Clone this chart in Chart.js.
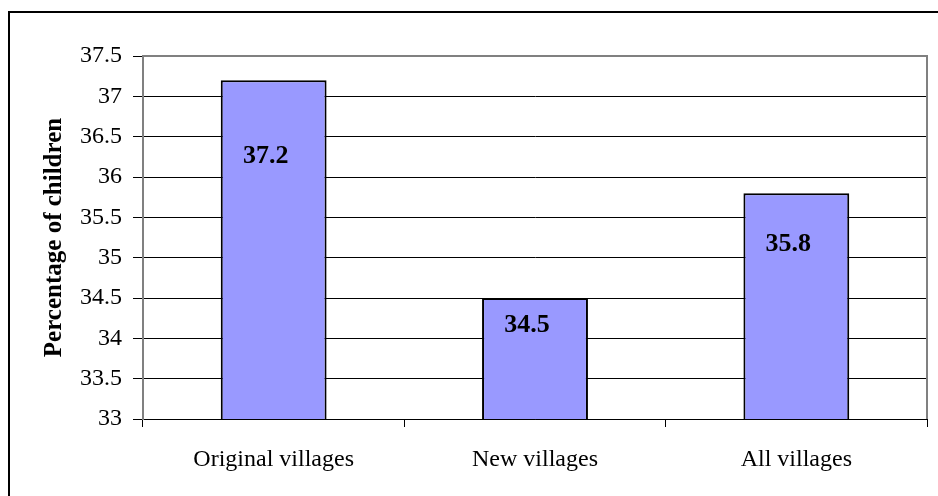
<!DOCTYPE html>
<html>
<head>
<meta charset="utf-8">
<script src="https://cdn.jsdelivr.net/npm/chart.js@4"></script>
<style>
  html, body { margin: 0; padding: 0; background: #fff; }
  #wrap { width: 938px; height: 496px; }
</style>
</head>
<body>
<div id="wrap"><canvas id="chart" width="938" height="496"></canvas></div>
<script>
const categories = ['Original villages', 'New villages', 'All villages'];
const percentChildren = [37.2, 34.5, 35.8];
const yMin = 33;
const yMax = 37.5;
const yStep = 0.5;

const serif = '"Liberation Serif", "Times New Roman", serif';

// outer frame + grey plot border
const framePlugin = {
    id: 'frame',
    beforeDraw(chart) {
        const ctx = chart.ctx;
        ctx.save();
        ctx.fillStyle = '#fff';
        ctx.fillRect(0, 0, chart.width, chart.height);
        ctx.strokeStyle = '#000';
        ctx.lineWidth = 2;
        ctx.strokeRect(9, 12, chart.width + 20, chart.height + 20);
        ctx.restore();
    },
    afterDraw(chart) {
        const a = chart.chartArea;
        const ctx = chart.ctx;
        ctx.save();
        ctx.strokeStyle = '#808080';
        ctx.lineWidth = 2;
        ctx.beginPath();
        ctx.moveTo(a.left, a.top);
        ctx.lineTo(a.right, a.top);
        ctx.lineTo(a.right, a.bottom);
        ctx.stroke();
        ctx.restore();
    }
};

// value labels inside the bars
const labelPlugin = {
    id: 'barLabels',
    afterDatasetsDraw(chart) {
        const ctx = chart.ctx;
        const y = chart.scales.y;
        const meta = chart.getDatasetMeta(0);
        ctx.save();
        ctx.font = 'bold 26px ' + serif;
        ctx.fillStyle = '#000';
        ctx.textAlign = 'center';
        ctx.textBaseline = 'middle';
        meta.data.forEach((bar, i) => {
            const v = percentChildren[i];
            const py = y.getPixelForValue(yMin + 0.775 * (v - yMin));
            ctx.fillText(v.toFixed(1), bar.x - 8, py);
        });
        ctx.restore();
    }
};

new Chart(document.querySelector('#chart').getContext('2d'), {
    type: 'bar',
    data: {
        labels: categories,
        datasets: [{
            data: percentChildren,
            backgroundColor: '#9999ff',
            borderColor: '#000',
            borderWidth: 2,
            barPercentage: 0.405,
            categoryPercentage: 1
        }]
    },
    options: {
        responsive: false,
        animation: false,
        layout: { padding: { top: 56, right: 11, left: 0, bottom: 0 } },
        plugins: {
            legend: { display: false },
            tooltip: { enabled: false }
        },
        scales: {
            x: {
                afterFit(scale) { scale.height = 77; },
                grid: {
                    offset: true,
                    drawOnChartArea: false,
                    tickLength: 8,
                    color: '#000'
                },
                border: { color: '#000', width: 1 },
                ticks: {
                    color: '#000',
                    padding: 18,
                    font: { family: serif, size: 24 }
                }
            },
            y: {
                min: yMin,
                max: yMax,
                afterFit(scale) { scale.width = 143; },
                grid: {
                    color: '#000',
                    lineWidth: 1,
                    tickLength: 10
                },
                border: { color: '#808080', width: 2 },
                ticks: {
                    stepSize: yStep,
                    color: '#000',
                    padding: 11,
                    font: { family: serif, size: 24 },
                    callback: (v) => String(Math.round(v * 10) / 10)
                },
                title: {
                    display: true,
                    text: 'Percentage of children',
                    color: '#000',
                    padding: { top: 40, bottom: 0 },
                    font: { family: serif, size: 25, weight: 'bold' }
                }
            }
        }
    },
    plugins: [framePlugin, labelPlugin]
});
</script>
</body>
</html>
